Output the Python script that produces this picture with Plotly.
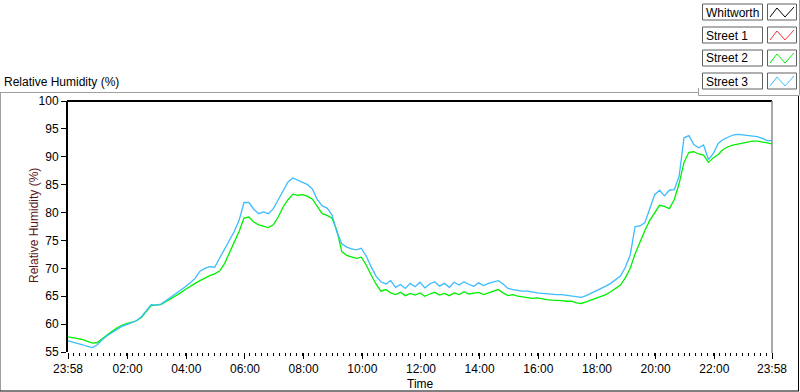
import plotly.graph_objects as go
import pandas as pd

# ---------------- data ----------------
start = pd.Timestamp("2024-01-01 23:58")
end = pd.Timestamp("2024-01-02 23:58")
times = pd.date_range(start, end, freq="10min")

street2 = [
    57.7, 57.6, 57.4, 57.2, 56.9, 56.6, 56.7, 57.4, 58.0, 58.7,
    59.3, 59.8, 60.1, 60.4, 60.6, 61.2, 62.2, 63.3, 63.4, 63.5,
    64.0, 64.5, 65.0, 65.6, 66.2, 66.8, 67.3, 67.8, 68.3, 68.7,
    69.0, 69.5, 70.8, 72.6, 74.7, 76.6, 79.0, 79.2, 78.3, 77.8,
    77.5, 77.3, 77.8, 79.2, 81.0, 82.3, 83.3, 83.1, 83.2, 82.9,
    82.4, 81.0, 79.8, 79.5, 79.0, 76.8, 73.0, 72.3, 72.0, 71.8,
    72.0, 70.6, 68.8, 67.2, 65.9, 66.2, 65.6, 65.3, 65.7, 65.1,
    65.5, 65.2, 65.6, 65.0, 65.4, 65.7, 65.2, 65.5, 65.1, 65.6,
    65.3, 65.8, 65.4, 65.5, 65.7, 65.3, 65.6, 65.9, 66.2, 65.6,
    65.1, 65.3, 65.0, 64.9, 64.8, 64.6, 64.7, 64.5, 64.4, 64.3,
    64.3, 64.2, 64.1, 64.1, 63.8, 63.7, 64.0, 64.3, 64.6, 64.9,
    65.3, 65.8, 66.4, 67.0, 68.3, 70.0, 72.6, 74.8, 76.8, 78.6,
    80.0, 81.3, 81.1, 80.7, 82.3, 85.2, 89.0, 90.8, 90.9, 90.5,
    90.3, 89.0, 89.8, 90.4, 91.3, 91.8, 92.1, 92.3, 92.5, 92.6,
    92.8, 92.8, 92.7, 92.5, 92.3,
]

street3 = [
    57.0, 56.8, 56.5, 56.3, 56.0, 55.8, 56.3, 57.2, 57.9, 58.5,
    59.0, 59.6, 59.9, 60.3, 60.6, 61.3, 62.5, 63.5, 63.4, 63.6,
    64.2, 64.8, 65.4, 66.0, 66.7, 67.4, 68.2, 69.5, 70.0, 70.3,
    70.2, 71.8, 73.4, 75.2, 76.6, 78.6, 81.8, 81.8, 80.6, 79.8,
    80.1, 79.8, 80.7, 82.3, 84.0, 85.5, 86.2, 85.8, 85.5, 85.0,
    84.2, 82.3, 81.2, 80.8, 79.6, 76.5, 74.4, 73.8, 73.5, 73.3,
    73.6, 72.2, 70.3, 68.6, 67.6, 67.2, 67.8, 66.6, 67.1, 66.4,
    67.3, 66.7, 67.5, 66.5, 67.2, 67.6, 66.8, 67.3, 66.6, 67.5,
    67.0, 67.6, 67.1, 66.8, 67.4, 66.9, 67.3, 67.6, 67.8, 67.2,
    66.4, 66.2, 66.0, 65.9, 65.9, 65.7, 65.6, 65.5, 65.4, 65.4,
    65.3, 65.3, 65.2, 65.1, 64.9, 64.8, 65.1, 65.5, 65.9, 66.3,
    66.8, 67.3, 67.9, 68.6, 70.2, 72.4, 77.5, 77.6, 78.2, 80.8,
    83.2, 84.0, 83.0, 84.0, 84.1, 86.5, 93.4, 93.8, 92.2, 91.6,
    92.1, 89.5, 90.6, 92.4, 93.1, 93.5, 93.9, 94.0, 93.9, 93.9,
    93.8, 93.6, 93.3, 92.9, 92.9,
]

legend_names = ["Whitworth", "Street 1", "Street 2", "Street 3"]
legend_colors = ["#000000", "#ff3030", "#00f000", "#3cbcff"]

x_tick_times = [start] + [pd.Timestamp("2024-01-02 %02d:00" % h) for h in range(2, 24, 2)] + [end]
x_tick_text = ["23:58"] + ["%02d:00" % h for h in range(2, 24, 2)] + ["23:58"]
y_ticks = [55, 60, 65, 70, 75, 80, 85, 90, 95, 100]

# ---------------- layout helpers ----------------
W, H = 800, 392
L, R, T, B = 68, 772, 101, 352
FONT = "Liberation Sans"


def px(x):
    return (x - L) / (R - L)


def py(y):
    return (B - y) / (B - T)


fig = go.Figure()
fig.add_trace(go.Scatter(x=times, y=street2, mode="lines", name="Street 2",
                         line=dict(color=legend_colors[2], width=1.3), showlegend=False))
fig.add_trace(go.Scatter(x=times, y=street3, mode="lines", name="Street 3",
                         line=dict(color=legend_colors[3], width=1.3), showlegend=False))

shapes = []


def line(x0, y0, x1, y1, color, width=1):
    shapes.append(dict(type="line", xref="paper", yref="paper",
                       x0=px(x0), y0=py(y0), x1=px(x1), y1=py(y1),
                       line=dict(color=color, width=width), layer="above"))


# outer frame
line(0, 92.5, 698, 92.5, "#a0a0a0")
line(0.5, 92.5, 0.5, 391, "#a0a0a0")
line(0, 391, 799, 391, "#000000")
line(798.5, 95, 798.5, 391, "#000000")
# legend panel border
line(698.5, 88, 698.5, 95.5, "#a0a0a0")
line(698.5, 95.5, 799, 95.5, "#a0a0a0")
line(799.5, 0, 799.5, 95.5, "#a0a0a0")
# plot frame
line(67, 101, 772, 101, "#000000", 2)
line(772, 101, 772, 353, "#8c8c8c", 1.5)

annotations = []
rows_y = [4, 27, 50, 73]
for name, col, y0 in zip(legend_names, legend_colors, rows_y):
    y1 = y0 + 16
    shapes.append(dict(type="rect", xref="paper", yref="paper",
                       x0=px(702.5), x1=px(762.5), y0=py(y0), y1=py(y1),
                       line=dict(color="#606060", width=1), fillcolor="white", layer="above"))
    shapes.append(dict(type="rect", xref="paper", yref="paper",
                       x0=px(767.5), x1=px(796.5), y0=py(y0), y1=py(y1),
                       line=dict(color="#606060", width=1), fillcolor="white", layer="above"))
    pts = [(770, y1 - 3), (777, y0 + 4), (785, y1 - 3), (794, y0 + 3)]
    path = "M " + " L ".join("%f,%f" % (px(a), py(b)) for a, b in pts)
    shapes.append(dict(type="path", xref="paper", yref="paper", path=path,
                       line=dict(color=col, width=1), layer="above"))
    annotations.append(dict(text=name, xref="paper", yref="paper", x=px(704), y=py(y0 + 8.5),
                            xanchor="left", yanchor="middle", showarrow=False,
                            font=dict(family=FONT, size=12, color="#000000")))

annotations.append(dict(text="Relative Humidity (%)", xref="paper", yref="paper",
                        x=px(2), y=py(82), xanchor="left", yanchor="middle", showarrow=False,
                        font=dict(family=FONT, size=12, color="#000000")))
annotations.append(dict(text="Relative Humidity (%)", xref="paper", yref="paper",
                        x=px(34), y=py(226), xanchor="center", yanchor="middle", showarrow=False,
                        textangle=-90, font=dict(family=FONT, size=12, color="#5a1616")))
annotations.append(dict(text="Time", xref="paper", yref="paper",
                        x=px(420), y=py(384), xanchor="center", yanchor="middle", showarrow=False,
                        font=dict(family=FONT, size=12, color="#000000")))

fig.update_layout(
    width=W, height=H, autosize=False,
    margin=dict(l=L, r=W - R, t=T, b=H - B, pad=0),
    paper_bgcolor="white", plot_bgcolor="white",
    showlegend=False,
    shapes=shapes, annotations=annotations,
    font=dict(family=FONT, size=12, color="#000000"),
)
fig.update_xaxes(
    range=[start, end], showgrid=False, zeroline=False, showline=False,
    tickmode="array", tickvals=x_tick_times, ticktext=x_tick_text,
    ticks="outside", ticklen=6, tickwidth=1, tickcolor="#000000",
    tickfont=dict(family=FONT, size=12, color="#000000"),
    minor=dict(ticks="outside", ticklen=3, tickwidth=1, tickcolor="#000000",
               tick0=start, dtick=12 * 60 * 1000, showgrid=False),
)
fig.update_yaxes(
    range=[55, 100], showgrid=False, zeroline=False,
    showline=True, linecolor="#000000", linewidth=2,
    tickmode="array", tickvals=y_ticks,
    ticks="outside", ticklen=5, tickwidth=1, tickcolor="#000000",
    tickfont=dict(family=FONT, size=12, color="#000000"),
)

fig.write_html(
    "out.html",
    config={"displayModeBar": False},
    post_script="document.body.style.margin='0';document.body.style.overflow='hidden';",
)
